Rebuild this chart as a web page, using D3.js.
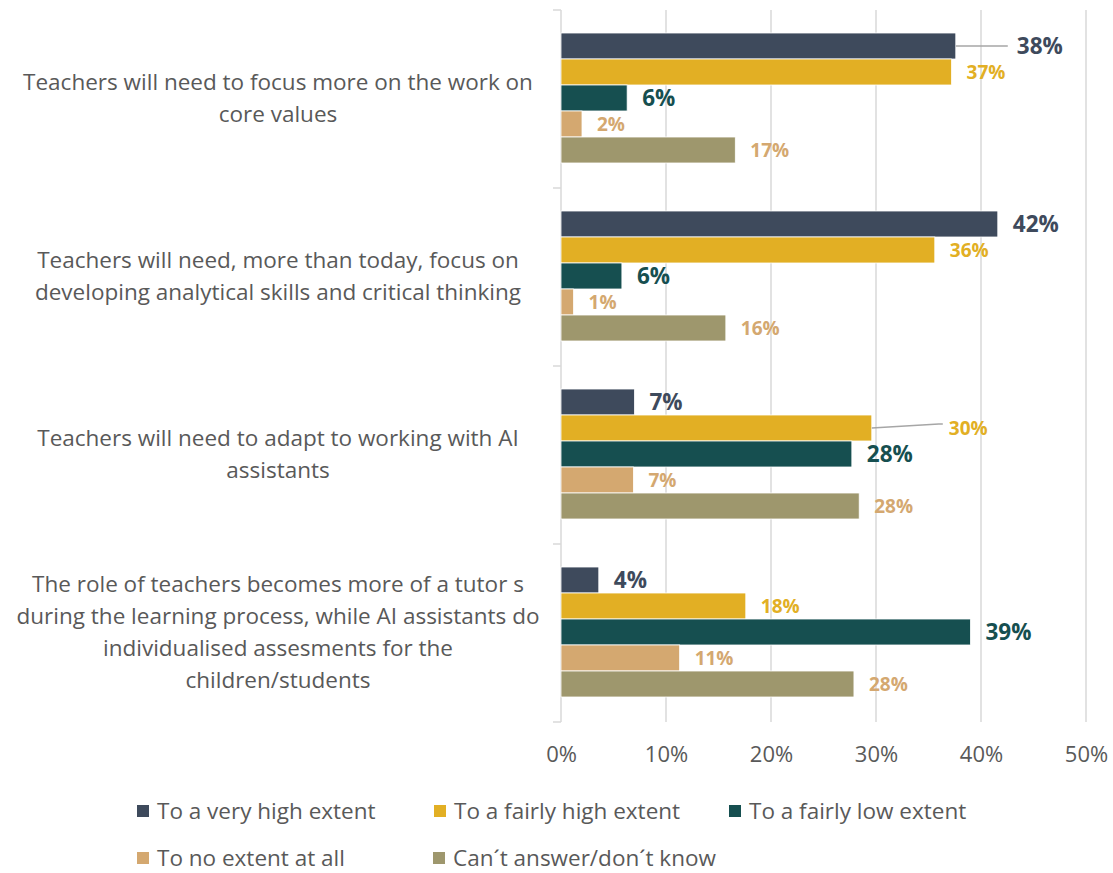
<!DOCTYPE html>
<html>
<head>
<meta charset="utf-8">
<script src="https://cdn.jsdelivr.net/npm/d3@7/dist/d3.min.js"></script>
<style>
  html, body { margin: 0; padding: 0; background: #ffffff; }
  svg { display: block; font-family: "Open Sans", "Noto Sans", sans-serif; }
</style>
</head>
<body>
<svg id="chart" width="1113" height="873"></svg>
<script>
// Survey statements (line breaks kept as written in the source labels)
const categories = [
  "Teachers will need to focus more on the work on\ncore values",
  "Teachers will need, more than today, focus on\ndeveloping analytical skills and critical thinking",
  "Teachers will need to adapt to working with AI\nassistants",
  "The role of teachers becomes more of a tutor s\nduring the learning process, while AI assistants do\nindividualised assesments for the\nchildren/students"
];

const seriesNames = [
  "To a very high extent",
  "To a fairly high extent",
  "To a fairly low extent",
  "To no extent at all",
  "Can\u00b4t answer/don\u00b4t know"
];

// Share of respondents (%) per statement, one array per answer option
const veryHigh   = [37.6, 41.6, 7.0, 3.6];
const fairlyHigh = [37.2, 35.6, 29.6, 17.6];
const fairlyLow  = [6.3, 5.8, 27.7, 39.0];
const noExtent   = [2.0, 1.2, 6.9, 11.3];
const dontKnow   = [16.6, 15.7, 28.4, 27.9];

const seriesValues = [veryHigh, fairlyHigh, fairlyLow, noExtent, dontKnow];

const xTicks = [0, 10, 20, 30, 40, 50];

// Styling
const barColors   = ["#3e4a5c", "#e2af24", "#164f50", "#d4a870", "#9e976d"];
const labelColors = ["#3e4a5c", "#e2af24", "#164f50", "#d4a870", "#d4a870"];
const labelSizes  = [22.5, 19, 22.5, 19, 19];
const textGrey = "#595959";

// Labels pushed outward with a leader line (statement index, series index, extra px)
const leaderShift = { "0|0": 46, "2|1": 62 };

const svg = d3.select("#chart");

const x = d3.scaleLinear().domain([0, 50]).range([561, 1086]);
const y = d3.scaleBand().domain(d3.range(categories.length)).range([10, 722]);
const yInner = d3.scaleBand().domain(d3.range(seriesNames.length))
  .range([23, y.bandwidth() - 25]);

// Vertical gridlines
svg.append("g")
  .selectAll("line")
  .data(xTicks.slice(1))
  .join("line")
  .attr("x1", d => x(d)).attr("x2", d => x(d))
  .attr("y1", y.range()[0]).attr("y2", y.range()[1])
  .attr("stroke", "#d9d9d9").attr("stroke-width", 1.5);

// X axis tick labels
const xAxis = d3.axisBottom(x).tickValues(xTicks).tickFormat(d => d + "%").tickSize(0).tickPadding(0);
const gx = svg.append("g").attr("transform", "translate(0,744)").call(xAxis);
gx.select(".domain").remove();
gx.selectAll("text")
  .attr("font-size", 22).attr("fill", textGrey)
  .attr("font-family", "'Open Sans', sans-serif")
  .attr("dy", "0.8em");

// Category axis line with small ticks at band boundaries
const axisG = svg.append("g").attr("stroke", "#d9d9d9").attr("stroke-width", 1.5);
axisG.append("line")
  .attr("x1", x(0)).attr("x2", x(0))
  .attr("y1", y.range()[0]).attr("y2", y.range()[1]);
axisG.selectAll("line.tick")
  .data(d3.range(categories.length + 1))
  .join("line").attr("class", "tick")
  .attr("x1", x(0) - 8).attr("x2", x(0))
  .attr("y1", i => y.range()[0] + i * y.bandwidth())
  .attr("y2", i => y.range()[0] + i * y.bandwidth());

// Category labels, centred in the left margin
const catG = svg.append("g");
categories.forEach((c, i) => {
  const lines = c.split("\n");
  const lh = 32;
  const cy = y(i) + y.bandwidth() / 2 - 1;
  const t = catG.append("text")
    .attr("x", 278).attr("text-anchor", "middle")
    .attr("font-size", 22.5).attr("fill", textGrey);
  lines.forEach((ln, k) => {
    t.append("tspan")
      .attr("x", 278)
      .attr("y", cy + (k - (lines.length - 1) / 2) * lh)
      .attr("dy", "0.35em")
      .text(ln);
  });
});

// Bars and value labels
const flat = [];
categories.forEach((c, ci) => {
  seriesValues.forEach((vals, si) => flat.push({ ci, si, v: vals[ci] }));
});

const barG = svg.append("g");
barG.selectAll("rect")
  .data(flat)
  .join("rect")
  .attr("x", x(0))
  .attr("y", d => y(d.ci) + yInner(d.si))
  .attr("width", d => x(d.v) - x(0))
  .attr("height", yInner.bandwidth())
  .attr("fill", d => barColors[d.si])
  .attr("stroke", "#ffffff").attr("stroke-width", 0.8);

const labG = svg.append("g");
flat.forEach(d => {
  const cy = y(d.ci) + yInner(d.si) + yInner.bandwidth() / 2;
  const shift = leaderShift[d.ci + "|" + d.si] || 0;
  const lx = x(d.v) + 15 + shift;
  if (shift) {
    const path = d3.path();
    path.moveTo(x(d.v), cy);
    if (d.ci === 2) {
      path.lineTo(lx - 10, cy - 4);
      path.lineTo(lx - 6, cy - 4);
    } else {
      path.lineTo(lx - 9, cy);
    }
    labG.append("path").attr("d", path.toString())
      .attr("fill", "none").attr("stroke", "#a6a6a6").attr("stroke-width", 1.5);
  }
  labG.append("text")
    .attr("x", lx).attr("y", cy)
    .attr("dy", "0.36em")
    .attr("font-size", labelSizes[d.si])
    .attr("font-weight", 700)
    .attr("fill", labelColors[d.si])
    .text(Math.round(d.v) + "%");
});

// Legend
const legendPos = [[137, 811], [434, 811], [729, 811], [137, 858], [433, 858]];
const legG = svg.append("g");
seriesNames.forEach((name, i) => {
  const [lx, ly] = legendPos[i];
  legG.append("rect")
    .attr("x", lx).attr("y", ly - 6)
    .attr("width", 12).attr("height", 12)
    .attr("fill", barColors[i]);
  legG.append("text")
    .attr("x", lx + 20).attr("y", ly)
    .attr("dy", "0.35em")
    .attr("font-size", 22.5).attr("fill", textGrey)
    .text(name);
});
</script>
</body>
</html>
